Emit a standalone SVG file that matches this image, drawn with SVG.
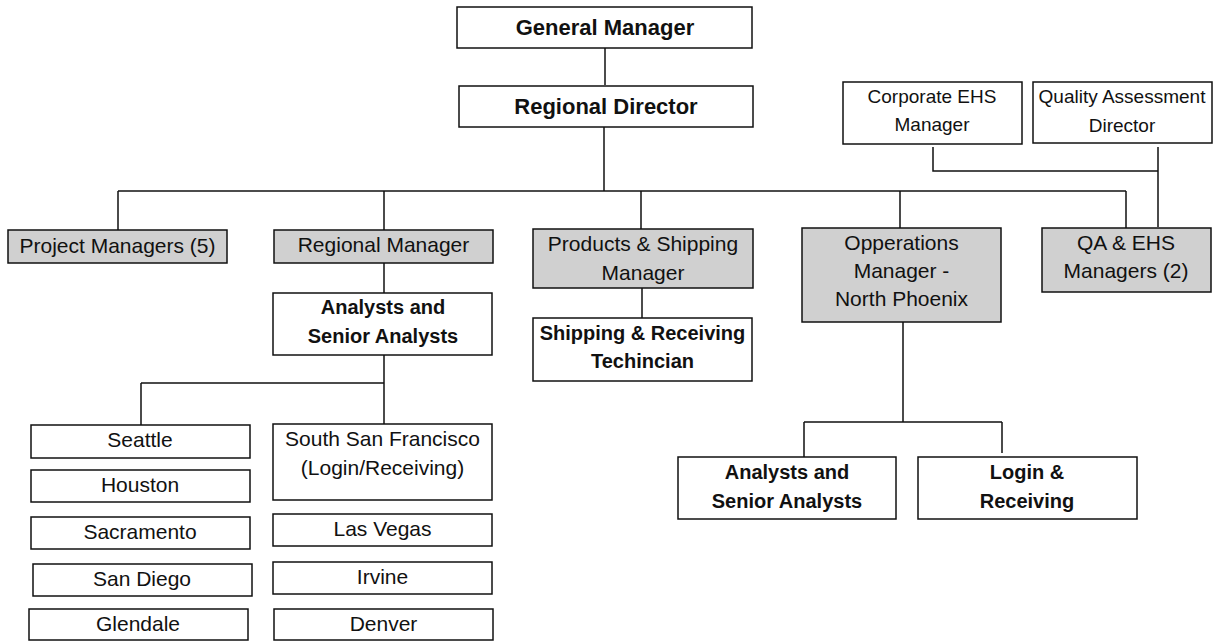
<svg xmlns="http://www.w3.org/2000/svg" width="1213" height="641" viewBox="0 0 1213 641">
<style>
.box{fill:#ffffff;stroke:#111;stroke-width:1.5}
.gray{fill:#d0d0d0;stroke:#111;stroke-width:1.5}
text{font-family:"Liberation Sans",Arial,sans-serif;fill:#111;text-anchor:middle}
.t{font-size:21px}
.s{font-size:19px}
.b{font-size:20px;font-weight:bold}
.h{font-size:22px;font-weight:bold}
.c{fill:none;stroke:#111;stroke-width:1.5}
</style>
<rect width="1213" height="641" fill="#ffffff"/>
<g id="connectors" class="c">
<path d="M605 48V85"/>
<path d="M604 127V191"/>
<path d="M118 191H1126"/>
<path d="M118 191V230M384 191V230M641 191V229M900 191V228M1126 191V228"/>
<path d="M933 147V171H1158M1158 147V227"/>
<path d="M384 263V293"/>
<path d="M384 355V424M141 383H384M141 383V425"/>
<path d="M642 288V318"/>
<path d="M903 322V422M804 422H1002M804 422V457M1002 422V453"/>
</g>
<g id="general-manager"><rect class="box" x="457" y="7" width="295" height="41"/><text class="h" x="605" y="35">General Manager</text></g>
<g id="regional-director"><rect class="box" x="459" y="86" width="294" height="41"/><text class="h" x="606" y="114">Regional Director</text></g>
<g id="corporate-ehs"><rect class="box" x="843" y="82" width="179" height="62"/><text class="s" x="932" y="103">Corporate EHS</text><text class="s" x="932" y="131">Manager</text></g>
<g id="qa-director"><rect class="box" x="1033" y="82" width="179" height="61"/><text class="s" x="1122" y="103">Quality Assessment</text><text class="s" x="1122" y="132">Director</text></g>
<g id="project-managers"><rect class="gray" x="8" y="230" width="219" height="33"/><text class="t" x="117.5" y="253">Project Managers (5)</text></g>
<g id="regional-manager"><rect class="gray" x="274" y="230" width="219" height="33"/><text class="t" x="383.5" y="252">Regional Manager</text></g>
<g id="products-shipping"><rect class="gray" x="533" y="229" width="220" height="59"/><text class="t" x="643" y="251">Products &amp; Shipping</text><text class="t" x="643" y="280">Manager</text></g>
<g id="operations-manager"><rect class="gray" x="802" y="228" width="199" height="94"/><text class="t" x="901.5" y="250">Opperations</text><text class="t" x="901.5" y="278">Manager -</text><text class="t" x="901.5" y="306">North Phoenix</text></g>
<g id="qa-ehs-managers"><rect class="gray" x="1042" y="228" width="169" height="64"/><text class="t" x="1126" y="250">QA &amp; EHS</text><text class="t" x="1126" y="278">Managers (2)</text></g>
<g id="analysts-left"><rect class="box" x="273" y="293" width="219" height="62"/><text class="b" x="383" y="314">Analysts and</text><text class="b" x="383" y="343">Senior Analysts</text></g>
<g id="shipping-receiving"><rect class="box" x="533" y="318" width="219" height="63"/><text class="b" x="642.5" y="340">Shipping &amp; Receiving</text><text class="b" x="642.5" y="368">Techincian</text></g>
<g id="seattle"><rect class="box" x="31" y="425" width="219" height="33"/><text class="t" x="140" y="447">Seattle</text></g>
<g id="houston"><rect class="box" x="31" y="470" width="219" height="32"/><text class="t" x="140" y="492">Houston</text></g>
<g id="sacramento"><rect class="box" x="31" y="517" width="219" height="32"/><text class="t" x="140" y="539">Sacramento</text></g>
<g id="san-diego"><rect class="box" x="33" y="564" width="219" height="32"/><text class="t" x="142" y="586">San Diego</text></g>
<g id="glendale"><rect class="box" x="29" y="609" width="219" height="31"/><text class="t" x="138" y="631">Glendale</text></g>
<g id="south-san-francisco"><rect class="box" x="273" y="424" width="219" height="76"/><text class="t" x="382.5" y="446">South San Francisco</text><text class="t" x="382.5" y="475">(Login/Receiving)</text></g>
<g id="las-vegas"><rect class="box" x="273" y="514" width="219" height="32"/><text class="t" x="382.5" y="536">Las Vegas</text></g>
<g id="irvine"><rect class="box" x="273" y="562" width="219" height="32"/><text class="t" x="382.5" y="584">Irvine</text></g>
<g id="denver"><rect class="box" x="274" y="609" width="219" height="31"/><text class="t" x="383.5" y="631">Denver</text></g>
<g id="analysts-right"><rect class="box" x="678" y="457" width="218" height="62"/><text class="b" x="787" y="479">Analysts and</text><text class="b" x="787" y="508">Senior Analysts</text></g>
<g id="login-receiving"><rect class="box" x="918" y="457" width="219" height="62"/><text class="b" x="1027" y="479">Login &amp;</text><text class="b" x="1027" y="508">Receiving</text></g>
</svg>
